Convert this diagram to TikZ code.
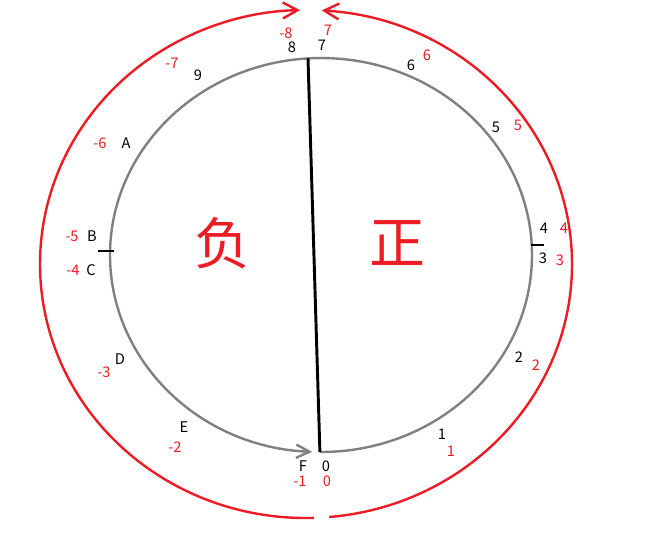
\documentclass[tikz,border=0pt]{standalone}
\usepackage{fontspec}
\newfontfamily\cjk{Noto Sans CJK SC}
\usepackage{tikz}
\usetikzlibrary{arrows.meta}
\definecolor{ringred}{RGB}{237,28,36}
\definecolor{ringgray}{RGB}{128,128,128}

\begin{document}
\begin{tikzpicture}[x=0.75pt, y=-0.75pt,
    num/.style={font=\cjk\fontsize{11}{13}\selectfont, inner sep=0pt},
    rednum/.style={num, text=ringred},
    bigchar/.style={font=\cjk\fontsize{42}{46}\selectfont, text=ringred, inner sep=0pt}]
    \useasboundingbox (0, 0) rectangle (647, 540);
    % outer ring, two halves meeting at the top
    \coordinate (gapL) at (313.9, 517.9);
    \coordinate (gapR) at (329.2, 517.0);
    \draw[ringred, line width=1.8pt, -{Straight Barb[length=11pt, width=12pt]}] (gapL) arc[start angle=88.3, end angle=268.7, x radius=266, y radius=254];
    \draw[ringred, line width=1.8pt, -{Straight Barb[length=11pt, width=12pt]}] (gapR) arc[start angle=85, end angle=-86.6, x radius=266, y radius=254];
    % inner ring
    \coordinate (top) at (308, 58.4);
    \coordinate (bot) at (319.9, 452);
    \draw[ringgray, line width=1.8pt, -{Straight Barb[length=10pt, width=10pt]}] (bot) arc[start angle=90.3, end angle=-267.6, x radius=211, y radius=197];
    \draw[line width=2.2pt] (top) -- (bot);
    \coordinate (tickL) at (110, 251);
    \coordinate (tickR) at (532, 245);
    \draw[line width=1.8pt] (tickL) ++(-12, 0) -- (tickL) -- ++(4, 0);
    \draw[line width=1.8pt] (tickR) ++(-1, 0) -- (tickR) -- ++(12, 0);
    % positive side
    \node[num] (b7) at (322, 45) {7};
    \node[rednum] (r7) at (328, 30) {7};
    \node[num] (b6) at (411, 65) {6};
    \node[rednum] (r6) at (427, 55) {6};
    \node[num] (b5) at (496, 127) {5};
    \node[rednum] (r5) at (518, 125) {5};
    \node[num] (b4) at (544, 228) {4};
    \node[rednum] (r4) at (564, 228) {4};
    \node[num] (b3) at (543, 258) {3};
    \node[rednum] (r3) at (560, 260) {3};
    \node[num] (b2) at (519, 357) {2};
    \node[rednum] (r2) at (536, 365) {2};
    \node[num] (b1) at (442, 434) {1};
    \node[rednum] (r1) at (451, 451) {1};
    \node[num] (b0) at (326, 466) {0};
    \node[rednum] (r0) at (327, 481) {0};
    % negative side
    \node[num] (bF) at (303, 466) {F};
    \node[rednum] (rF) at (300, 481) {-1};
    \node[num] (bE) at (184, 427) {E};
    \node[rednum] (rE) at (175, 447) {-2};
    \node[num] (bD) at (120, 359) {D};
    \node[rednum] (rD) at (104, 372) {-3};
    \node[num] (bC) at (91, 270) {C};
    \node[rednum] (rC) at (73, 270) {-4};
    \node[num] (bB) at (92, 236) {B};
    \node[rednum] (rB) at (72, 236) {-5};
    \node[num] (bA) at (126, 143) {A};
    \node[rednum] (rA) at (100, 143) {-6};
    \node[num] (b9) at (198, 75) {9};
    \node[rednum] (r9) at (172, 63) {-7};
    \node[num] (b8) at (292, 47) {8};
    \node[rednum] (r8) at (286, 33) {-8};
    % halves
    \node[bigchar] (neg) at (222, 243) {负};
    \node[bigchar] (pos) at (397, 243) {正};
\end{tikzpicture}
\end{document}
